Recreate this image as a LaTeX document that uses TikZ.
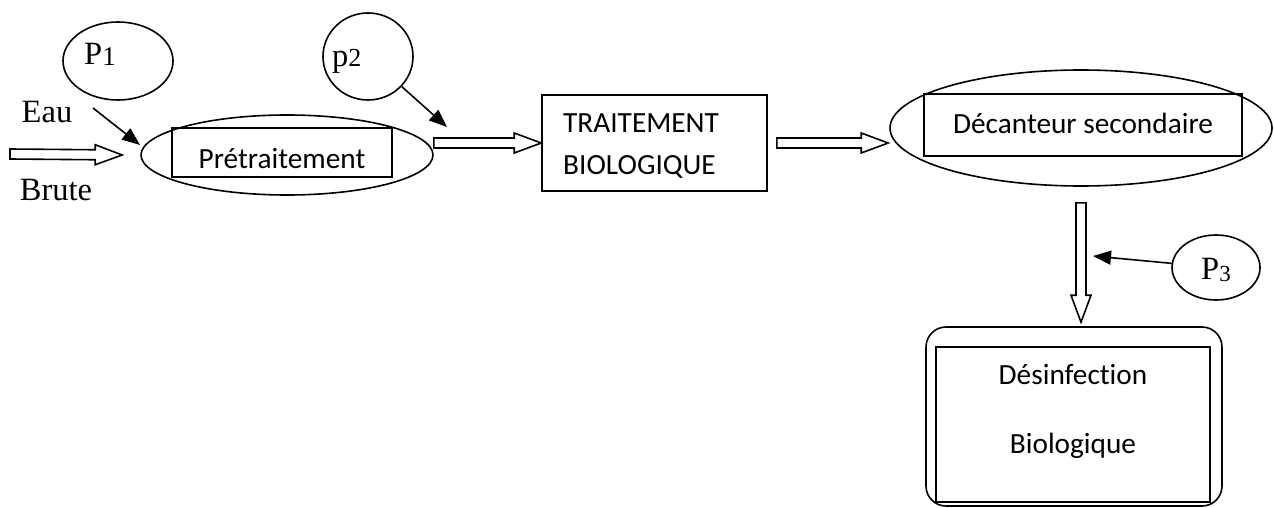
\documentclass[tikz,border=0pt]{standalone}
\usepackage{fontspec}
\setmainfont{Liberation Serif}
\newfontfamily\calibri[Ligatures=NoCommon]{Carlito}
\usetikzlibrary{shapes.geometric,arrows.meta,calc}

% lowered index digit after a letter
\newcommand\idxdigit[3]{\raisebox{#1}{\fontsize{#2}{#2}\selectfont #3}}

\tikzset{
  % hollow block arrow between two points: shaft 10pt wide, head 20pt wide, 27pt long
  hollow/.style={line width=1.6pt, line join=miter, to path={
    ($(\tikztostart)!5pt!90:(\tikztotarget)$)
    -- ($(\tikztotarget)!27.46pt!-10.49:(\tikztostart)$)
    -- ($(\tikztotarget)!28.79pt!-20.32:(\tikztostart)$)
    -- (\tikztotarget)
    -- ($(\tikztotarget)!28.79pt!20.32:(\tikztostart)$)
    -- ($(\tikztotarget)!27.46pt!10.49:(\tikztostart)$)
    -- ($(\tikztostart)!5pt!-90:(\tikztotarget)$) -- cycle}},
  serif/.style={font=\fontsize{32.5}{38}\selectfont, inner sep=0pt},
  sans/.style={font=\calibri\fontsize{29.3}{34}\selectfont, inner sep=0pt},
  oval/.style={draw, line width=1.6pt, ellipse, inner sep=0pt},
  boxed/.style={draw, line width=1.6pt, rectangle, inner sep=0pt},
  pin/.style={line width=1.6pt, -{Triangle[length=18pt,width=14pt]}}
}

\begin{document}
\begin{tikzpicture}[x=1pt,y=-1pt]
\useasboundingbox (0,0) rectangle (1274,508);

% parameter bubbles
\node[oval, minimum width=110pt, minimum height=78pt] (p1) at (118,61) {};
\node[serif, anchor=base west] (p1t) at (84,65) {P\idxdigit{-1pt}{27}{1}};
\node[oval, minimum width=90pt, minimum height=87pt] (p2) at (368,56.5) {};
\node[serif, anchor=base west] (p2t) at (332,67) {p\idxdigit{0pt}{26}{2}};
\node[oval, minimum width=88pt, minimum height=65pt] (p3) at (1216,267.5) {};
\node[serif, anchor=base west] (p3t) at (1201,279) {P\idxdigit{-2pt}{23}{3}};

% raw water label
\node[serif, anchor=base] (eau) at (47,123) {Eau};
\node[serif, anchor=base] (brute) at (56,200) {Brute};

% pretreatment
\node[oval, minimum width=292pt, minimum height=80pt] (pre) at (287,155) {};
\node[boxed, sans, minimum width=220pt, text height=40pt, text depth=9pt] (pret) at (282,152.5) {Prétraitement};

% biological treatment
\node[boxed, minimum width=225pt, minimum height=96pt] (trait) at (654.5,143) {};
\node[sans, anchor=base west] (trait1) at (563,133) {TRAITEMENT};
\node[sans, anchor=base west] (trait2) at (563,175) {BIOLOGIQUE};

% secondary clarifier
\node[oval, minimum width=382pt, minimum height=116pt] (dec) at (1081,128) {};
\node[boxed, sans, minimum width=318pt, text height=40pt, text depth=22pt] (dect) at (1083,125) {Décanteur secondaire};

% disinfection
\node[boxed, rounded corners=20pt, minimum width=296pt, minimum height=179pt] (desout) at (1074,416.5) {};
\node[boxed, minimum width=274pt, minimum height=155pt] (desin) at (1073,424.5) {};
\node[sans, anchor=base] (des1) at (1073,384) {Désinfection};
\node[sans, anchor=base] (des2) at (1073,453) {Biologique};

% main flow
\coordinate (inlet) at (10,154);
\draw[hollow] (inlet) to ([xshift=-18pt]pre.west);
\draw[hollow] (pre.east |- trait.west) to (trait.west);
\draw[hollow] ([xshift=9pt]trait.east) to ([xshift=-1pt]dec.west |- trait.east);
\draw[hollow] ([yshift=-16pt]dec.south) to ([yshift=4pt]dec.south |- desout.north);

% sampling points
\coordinate (p1tail) at (93,108);
\coordinate (p1head) at (140,145);
\draw[pin] (p1tail) -- (p1head);
\coordinate (p2head) at (447,127);
\draw[pin] (p2) -- (p2head);
\coordinate (p3head) at (1093,256);
\draw[pin] (p3) -- (p3head);
\end{tikzpicture}
\end{document}
